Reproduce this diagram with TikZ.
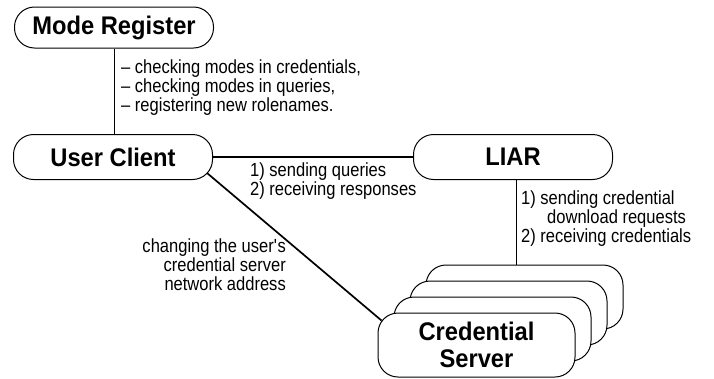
\documentclass[tikz,border=0pt]{standalone}
\usepackage{fontspec}
\newfontfamily\boxfont{Liberation Sans}[FakeStretch=0.93]
\newfontfamily\notefont{Liberation Sans}[FakeStretch=0.87]
\usetikzlibrary{positioning,calc}

\begin{document}
\begin{tikzpicture}[x=1pt,y=1pt,
    pill/.style={draw=black,line width=1pt,fill=white,rounded corners=20pt,minimum width=199pt,inner sep=0pt,font=\boxfont\bfseries\fontsize{25.5}{27}\selectfont},
    server/.style={pill,minimum width=197pt,minimum height=64pt},
    note/.style={font=\notefont\fontsize{19}{19}\selectfont,inner sep=0pt},
    thinlink/.style={line width=1pt},
    thicklink/.style={line width=1.7pt}
]

\useasboundingbox (0,0) rectangle (714,-378);

% Boxes
\node[pill,minimum height=41pt] (mr) at (114,-27.5) {Mode Register};
\node[pill,minimum height=45pt] (uc) at (113,-157) {User Client};
\node[pill,minimum height=45pt] (liar) at (513,-157) {LIAR};

% Credential server stack, back to front
\coordinate (csc) at (476.5,-345);
\foreach \i in {3,2,1}
  \node[server] (cs\i) at ($(csc)+(16*\i,16*\i)$) {};
\node[server,align=center] (cs) at (csc) {Credential\\Server};

% Links
\draw[thinlink] (mr.south) -- (mr.south |- uc.north);
\draw[thicklink] (uc.east) -- (liar.west);
\draw[thinlink] ($(liar.south)+(3,0)$) -- ($(liar.south |- cs3.north)+(3,0)$);
\draw[thicklink] ($(uc.east)+(-6,-16)$) -- ($(cs.north west)+(4,-8)$);

% Link labels (base = last line)
\node[note,anchor=base west,align=left] (mrnote) at (121,-111)
  {– checking modes in credentials,\\– checking modes in queries,\\– registering new rolenames.};
\node[note,anchor=base west,align=left] (qnote) at (250,-195)
  {1) sending queries\\2) receiving responses};
\node[note,anchor=base west,align=left] (dlnote) at (521,-242)
  {1) sending credential\\\hspace*{26pt}download requests\\2) receiving credentials};
\node[note,anchor=base east,align=right] (addrnote) at (286,-290)
  {changing the user\textquotesingle s\\credential server\\network address};

\end{tikzpicture}
\end{document}
